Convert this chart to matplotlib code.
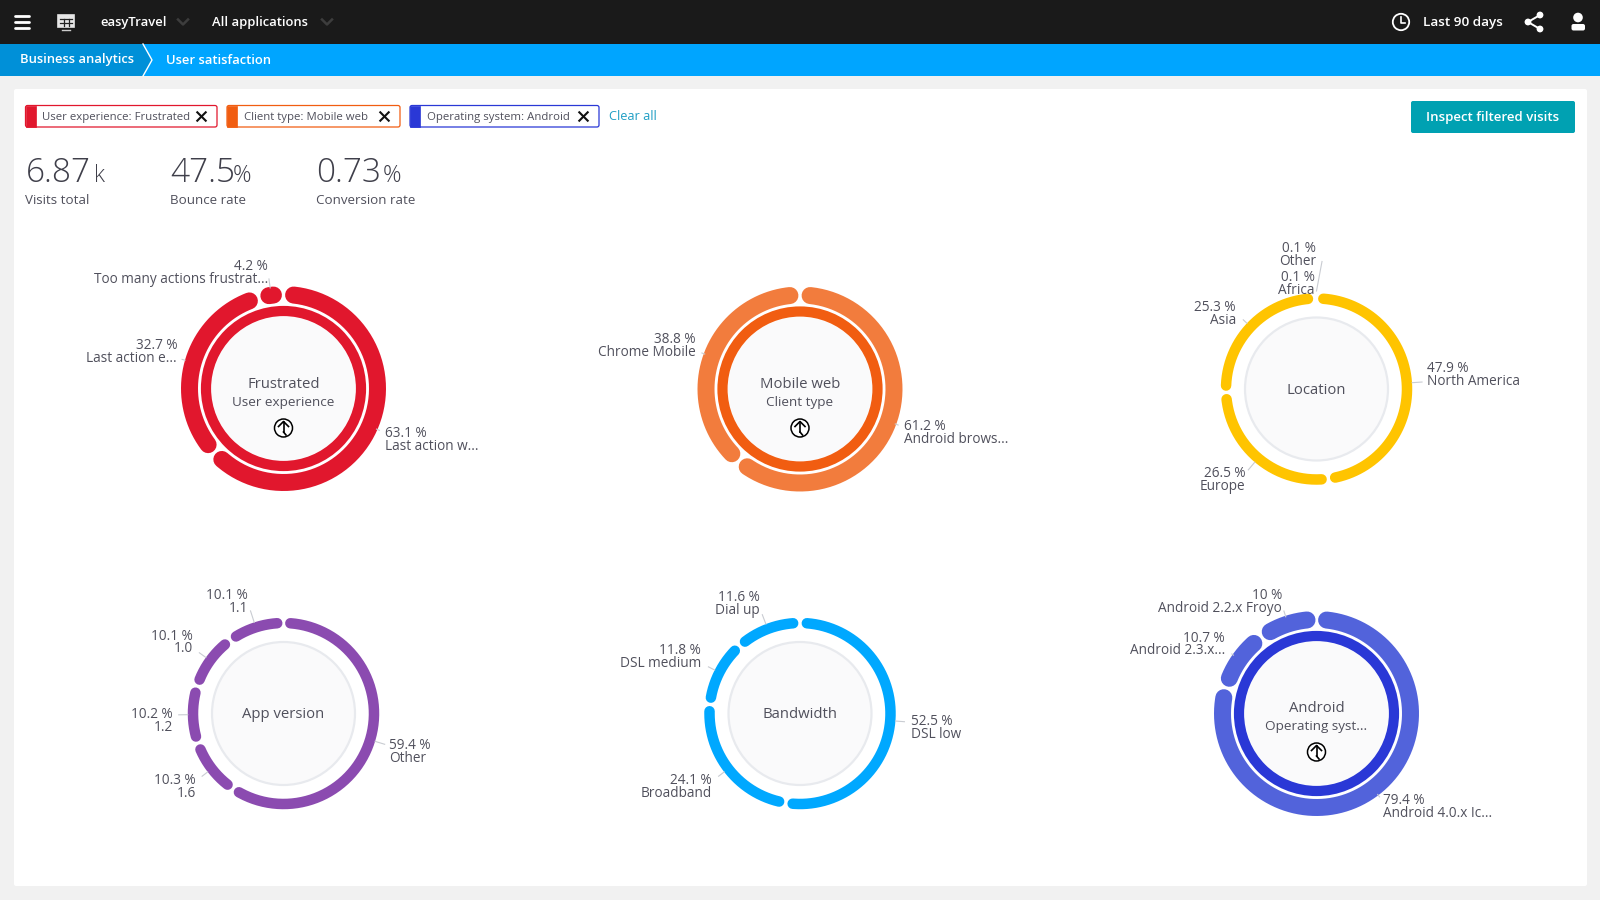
"""Recreates the user satisfaction dashboard with its six ring charts."""

import numpy as np
import matplotlib
matplotlib.use("Agg")
import matplotlib.pyplot as plt
from matplotlib.patches import Circle, FancyBboxPatch, Polygon, Rectangle

plt.rcParams['font.family'] = ['Open Sans', 'DejaVu Sans']

# Chart data
experience_values = [63.1, 32.7, 4.2]
experience_names = ["Last action w...", "Last action e...", "Too many actions frustrat..."]
client_values = [61.2, 38.8]
client_names = ["Android brows...", "Chrome Mobile"]
location_values = [47.9, 26.5, 25.3, 0.1, 0.1]
location_names = ["North America", "Europe", "Asia", "Africa", "Other"]
version_values = [59.4, 10.3, 10.2, 10.1, 10.1]
version_names = ["Other", "1.6", "1.2", "1.0", "1.1"]
bandwidth_values = [52.5, 24.1, 11.8, 11.6]
bandwidth_names = ["DSL low", "Broadband", "DSL medium", "Dial up"]
android_values = [79.4, 10.7, 10]
android_names = ["Android 4.0.x Ic...", "Android 2.3.x...", "Android 2.2.x Froyo"]

filter_labels = ["User experience: Frustrated", "Client type: Mobile web", "Operating system: Android"]
kpi_values = ["6.87", "47.5", "0.73"]
kpi_units = ["k", "%", "%"]
kpi_labels = ["Visits total", "Bounce rate", "Conversion rate"]

TEXT = "#50505c"
GREY = "#c9ccd2"
PX = 0.72  # one pixel in points at dpi 100
LABEL_SIZE = 9.85
TITLE_SIZE = 10.75
SUB_SIZE = 9.7
BAR_SIZE = 9.35


def draw_arc(ax, cx, cy, radius, a0, a1, color, width):
    """Draw one arc, angles in degrees clockwise from 12 o'clock."""
    theta = np.radians(np.linspace(a0, a1, 200))
    ax.plot(cx + radius * np.sin(theta), cy - radius * np.cos(theta), color=color,
            lw=width * PX, solid_capstyle='round', zorder=3)


def draw_ring(ax, cx, cy, values, color, drilled=False, inner_color=None):
    """Draw the segment ring, the inner ring or hub, and return the outer radius."""
    if drilled:
        radius, width = 94.0, 17.0
    else:
        radius, width = 90.5, 10.5
    ends = np.cumsum(values) * 3.6
    starts = np.concatenate(([0.0], ends[:-1]))
    pad = np.degrees((width / 2 + 1.6) / radius)
    for a0, a1 in zip(starts, ends):
        if a1 - a0 > 2 * pad:
            draw_arc(ax, cx, cy, radius, a0 + pad, a1 - pad, color, width)
    if drilled:
        ax.add_patch(Circle((cx, cy), 72, fc="#fafafb", ec="none", zorder=2))
        ax.add_patch(Circle((cx, cy), 77.5, fc="none", ec=inner_color, lw=10.2 * PX, zorder=3))
    else:
        ax.add_patch(Circle((cx, cy), 71.5, fc="#fafafb", ec="#e8eaee", lw=2.2 * PX, zorder=2))
    return radius + width / 2, starts, ends


def draw_labels(ax, cx, cy, outer, starts, ends, values, names, layout):
    """Write percentage and name beside each segment, with a short radial leader."""
    for a0, a1, val, name, spot in zip(starts, ends, values, names, layout):
        x, y1, y2, ha, inset, length = spot
        ax.text(x, y1 + 1.5, f"{val:g} %", ha=ha, va='center', fontsize=LABEL_SIZE, color=TEXT, zorder=5)
        ax.text(x, y2 + 1.5, name, ha=ha, va='center', fontsize=LABEL_SIZE, color=TEXT, zorder=5)
        if length > 0:
            mid = np.radians((a0 + a1) / 2)
            r = np.array([outer - inset, outer + length])
            ax.plot(cx + r * np.sin(mid), cy - r * np.cos(mid), color=GREY, lw=0.8, zorder=4)


def draw_up_icon(ax, x, y):
    ax.add_patch(Circle((x, y), 9.0, fc="white", ec="black", lw=1.1, zorder=6))
    ax.plot([x, x], [y - 6, y + 4], color="black", lw=1.2, zorder=7)
    ax.plot([x - 5, x, x + 5], [y - 1.5, y - 6.5, y - 1.5], color="black", lw=1.2, zorder=7)
    ax.plot([x, x + 2.5], [y + 4, y + 7], color="black", lw=1.2, zorder=7)


def draw_chip(ax, x0, x1, color, label, x_mark):
    ax.add_patch(FancyBboxPatch((x0, 105.5), x1 - x0, 21.5, boxstyle="round,pad=0,rounding_size=2",
                                fc="white", ec=color, lw=0.9, zorder=3))
    ax.add_patch(Rectangle((x0, 105.5), 10, 21.5, fc=color, ec=color, lw=0.5, zorder=4))
    ax.text(x0 + 17, 117.5, label, fontsize=8.2, color=TEXT, va='center', zorder=5)
    d = 4.2
    ax.plot([x_mark - d, x_mark + d], [116.5 - d, 116.5 + d], color="#111111", lw=1.5, zorder=5)
    ax.plot([x_mark - d, x_mark + d], [116.5 + d, 116.5 - d], color="#111111", lw=1.5, zorder=5)


def draw_header(ax):
    ax.add_patch(Rectangle((0, 0), 1600, 44, fc="#1a1a1a", ec="none"))
    ax.add_patch(Rectangle((0, 44), 1600, 32, fc="#00a5ff", ec="none"))
    ax.add_patch(Polygon([(0, 44), (143, 44), (152, 60), (143, 76), (0, 76)], fc="#0090d8", ec="none"))
    ax.plot([143, 152, 143], [44, 60, 76], color="white", lw=1.0)

    # hamburger and grid icons
    for y in (16, 22, 28):
        ax.plot([15, 29], [y, y], color="white", lw=2.0, solid_capstyle='round')
    ax.add_patch(Rectangle((58, 15), 16, 12, fc="#e6e6e6", ec="#e6e6e6", lw=1.2))
    ax.plot([60, 72], [19, 19], color="#222222", lw=0.9)
    ax.plot([60, 72], [23, 23], color="#222222", lw=0.9)
    ax.plot([63.5, 63.5], [19, 26], color="#222222", lw=0.9)
    ax.plot([68.5, 68.5], [19, 26], color="#222222", lw=0.9)
    ax.plot([62, 70], [29.5, 29.5], color="#cccccc", lw=1.0)

    ax.text(100, 22.5, "easyTravel", color="white", fontsize=BAR_SIZE, fontweight='semibold', va='center')
    ax.text(212.5, 22.5, "All applications", color="white", fontsize=BAR_SIZE, fontweight='semibold', va='center')
    for x in (183, 327):
        ax.plot([x - 5, x, x + 5], [19.5, 24.5, 19.5], color="#3d3d3d", lw=1.8)

    ax.text(20.5, 60, "Business analytics", color="white", fontsize=BAR_SIZE, fontweight='semibold', va='center')
    ax.text(165.5, 60, "User satisfaction", color="white", fontsize=BAR_SIZE, fontweight='semibold', va='center')

    # clock
    ax.add_patch(Circle((1401, 22), 8.2, fc="none", ec="white", lw=1.3))
    ax.plot([1401, 1401, 1405], [17, 22.5, 22.5], color="white", lw=1.2)
    ax.text(1423, 22.5, "Last 90 days", color="white", fontsize=9.7, fontweight='semibold', va='center')

    # share
    ax.plot([1540, 1528, 1540], [15, 22, 29], color="white", lw=1.4)
    for x, y, r in ((1540, 15, 3.4), (1528, 22, 3.4), (1540, 29, 3.4)):
        ax.add_patch(Circle((x, y), r, fc="white", ec="none"))

    # user
    ax.add_patch(Circle((1578, 17.5), 4.8, fc="white", ec="none"))
    ax.add_patch(FancyBboxPatch((1571.5, 24), 13.5, 6.5, boxstyle="round,pad=0,rounding_size=2", fc="white", ec="none"))


fig = plt.figure(figsize=(16, 9), dpi=100)
fig.patch.set_facecolor("#f1f1f1")
ax = fig.add_axes([0, 0, 1, 1])
ax.set_xlim(0, 1600)
ax.set_ylim(900, 0)
ax.axis('off')

draw_header(ax)
ax.add_patch(FancyBboxPatch((14, 89), 1573, 797, boxstyle="round,pad=0,rounding_size=2", fc="white", ec="none", zorder=1))

# Filters and button
draw_chip(ax, 25.5, 217, "#e1172d", filter_labels[0], 201.5)
draw_chip(ax, 227, 400, "#f15d11", filter_labels[1], 384.5)
draw_chip(ax, 410, 599, "#2a38d6", filter_labels[2], 583.5)
ax.text(609, 117, "Clear all", color="#1f9ec4", fontsize=9.2, va='center', zorder=5)
ax.add_patch(FancyBboxPatch((1411, 101), 164, 32, boxstyle="round,pad=0,rounding_size=2", fc="#00a1b2", ec="none", zorder=3))
ax.text(1493, 118, "Inspect filtered visits", color="white", fontsize=9.55, fontweight='semibold',
        ha='center', va='center', zorder=5)

# KPIs
kpi_x = [25.5, 170.5, 316.5]
unit_x = [94.5, 233, 382.5]
for x, ux, val, unit, label in zip(kpi_x, unit_x, kpi_values, kpi_units, kpi_labels):
    ax.text(x, 182, val, fontsize=24, fontweight='light', color="#3f3f4a", va='baseline', zorder=5)
    ax.text(ux, 182, unit, fontsize=16.5, fontweight='light', color="#3f3f4a", va='baseline', zorder=5)
    ax.text(x - 0.5, 201, label, fontsize=9.6, color=TEXT, va='center', zorder=5)

# Ring 1: user experience
cx, cy = 283.5, 388.5
outer, s, e = draw_ring(ax, cx, cy, experience_values, "#e1172d", True, "#e1172d")
draw_labels(ax, cx, cy, outer, s, e, experience_values, experience_names,
            [(385, 432, 445.5, 'left', 1, 2), (177, 344, 357, 'right', 0, 3), (268, 265, 278, 'right', 1, 8)])
ax.text(cx, 384.5, "Frustrated", fontsize=TITLE_SIZE, color=TEXT, ha='center', va='center', zorder=5)
ax.text(cx, 402.5, "User experience", fontsize=SUB_SIZE, color=TEXT, ha='center', va='center', zorder=5)
draw_up_icon(ax, cx, 428)

# Ring 2: client type
cx, cy = 800, 389
outer, s, e = draw_ring(ax, cx, cy, client_values, "#f27c3d", True, "#f15d11")
draw_labels(ax, cx, cy, outer, s, e, client_values, client_names,
            [(904, 425, 438, 'left', 1, 2), (696, 338, 350.5, 'right', 1, 2)])
ax.text(cx, 384.5, "Mobile web", fontsize=TITLE_SIZE, color=TEXT, ha='center', va='center', zorder=5)
ax.text(cx, 402.5, "Client type", fontsize=SUB_SIZE, color=TEXT, ha='center', va='center', zorder=5)
draw_up_icon(ax, cx, 428)

# Ring 3: location
cx, cy = 1316.5, 389
outer, s, e = draw_ring(ax, cx, cy, location_values, "#ffc400")
draw_labels(ax, cx, cy, outer, s, e, location_values, location_names,
            [(1427, 367, 380, 'left', 0, 10), (1245, 472, 485.5, 'right', 0, 10), (1236, 306, 318.5, 'right', 0, 5),
             (1315, 276, 288.5, 'right', 0, 0), (1316, 247, 260, 'right', 0, 0)])
ax.plot([1322, 1316.5], [261.5, 291], color=GREY, lw=0.8, zorder=4)
ax.text(cx, 390.5, "Location", fontsize=TITLE_SIZE, color=TEXT, ha='center', va='center', zorder=5)

# Ring 4: app version
cx, cy = 283.5, 713.5
outer, s, e = draw_ring(ax, cx, cy, version_values, "#8b4bb0")
draw_labels(ax, cx, cy, outer, s, e, version_values, version_names,
            [(389, 744, 756.5, 'left', 0, 10), (196, 779, 792, 'right', 0, 7), (173, 713, 726, 'right', 0, 9),
             (193, 635, 647.5, 'right', 0, 8), (248, 594, 607, 'right', 0, 12)])
ax.text(cx, 714.5, "App version", fontsize=TITLE_SIZE, color=TEXT, ha='center', va='center', zorder=5)

# Ring 5: bandwidth
cx, cy = 800, 713.5
outer, s, e = draw_ring(ax, cx, cy, bandwidth_values, "#00a8ff")
draw_labels(ax, cx, cy, outer, s, e, bandwidth_values, bandwidth_names,
            [(911, 720, 733, 'left', 0, 9), (712, 779, 792, 'right', 0, 7), (701, 649, 662, 'right', 0, 7),
             (760, 596, 609, 'right', 0, 10)])
ax.text(cx, 714.5, "Bandwidth", fontsize=TITLE_SIZE, color=TEXT, ha='center', va='center', zorder=5)

# Ring 6: operating system
cx, cy = 1316.5, 713.5
outer, s, e = draw_ring(ax, cx, cy, android_values, "#5263db", True, "#2a38d6")
draw_labels(ax, cx, cy, outer, s, e, android_values, android_names,
            [(1383, 799, 812, 'left', 1, 2), (1225, 637, 649.5, 'right', 1, 1), (1282, 594, 607, 'right', 1, 5)])
ax.text(cx, 708.5, "Android", fontsize=TITLE_SIZE, color=TEXT, ha='center', va='center', zorder=5)
ax.text(cx, 726.5, "Operating syst...", fontsize=SUB_SIZE, color=TEXT, ha='center', va='center', zorder=5)
draw_up_icon(ax, cx, 752)

fig.savefig("out.png", dpi=100, facecolor=fig.get_facecolor())
